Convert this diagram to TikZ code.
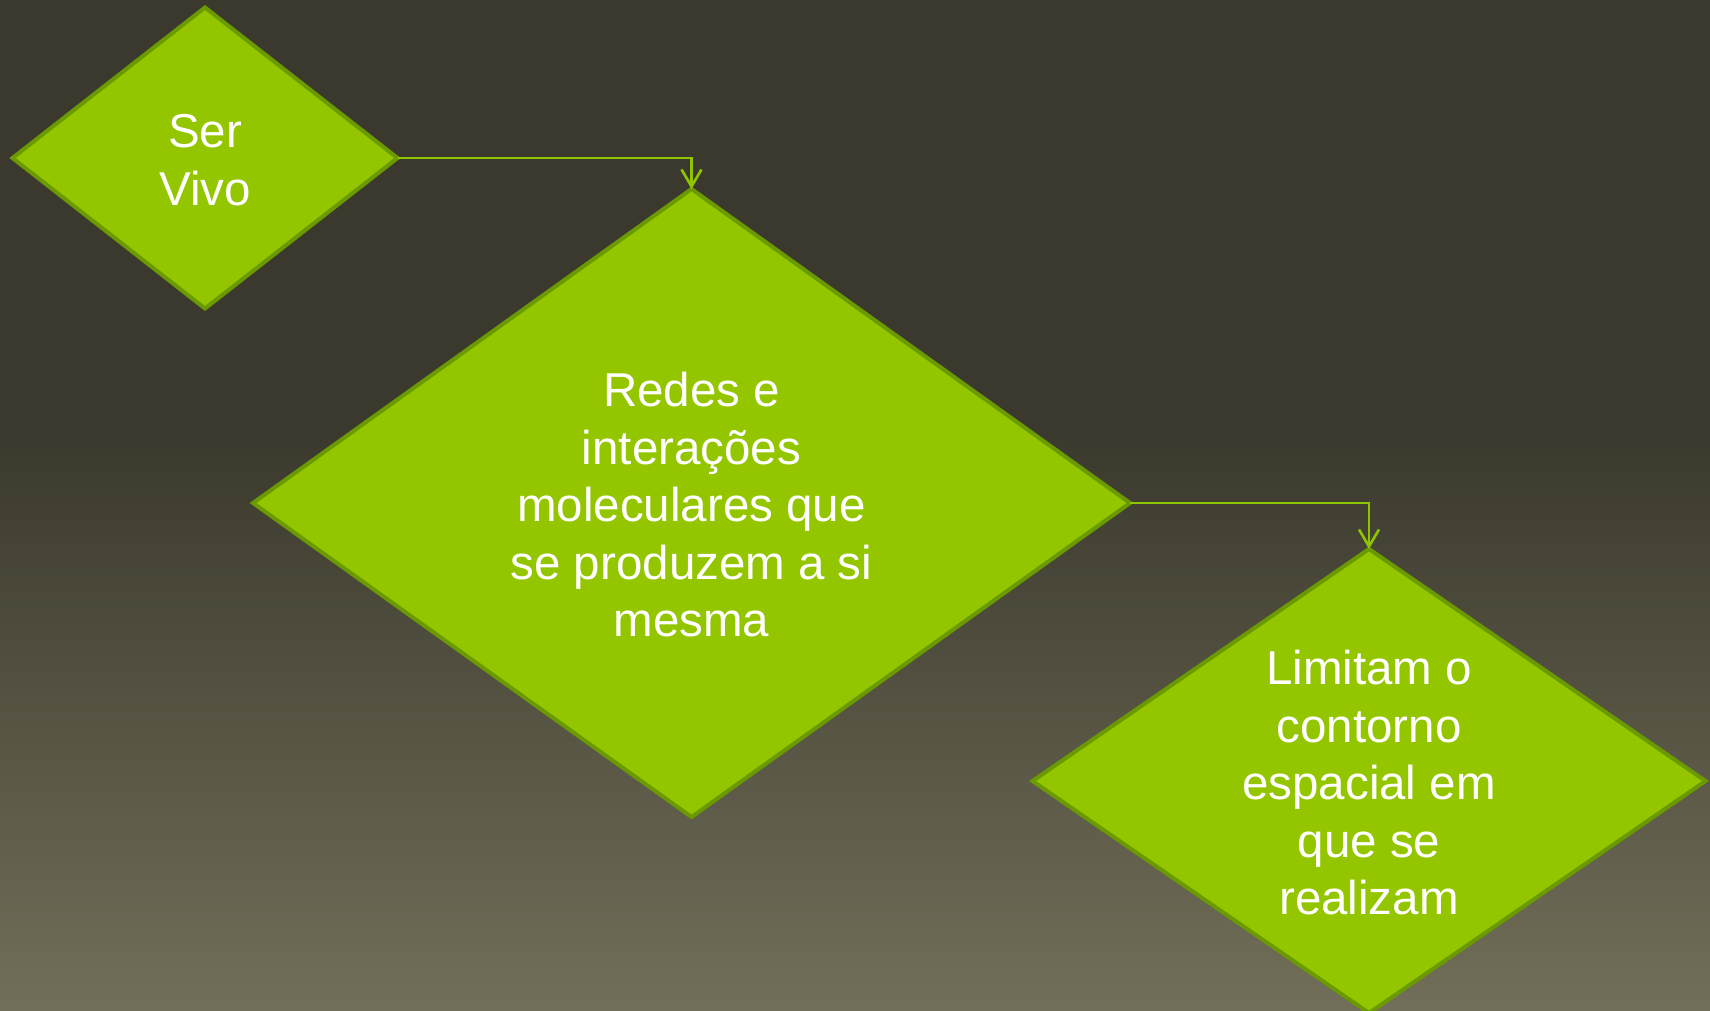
\documentclass[tikz,border=0pt]{standalone}
\usepackage{fontspec}
\setmainfont{Liberation Sans}
\usetikzlibrary{shapes.geometric,arrows.meta}
\definecolor{bgtop}{HTML}{3B392D}
\definecolor{bgbot}{HTML}{716E59}
\definecolor{dfill}{HTML}{94C600}
\definecolor{dline}{HTML}{6B9A00}
\definecolor{connc}{HTML}{8FC400}
\begin{document}
\begin{tikzpicture}[x=1pt,y=-1pt,
 dia/.style={diamond, draw=dline, fill=dfill, line width=4pt, inner sep=0pt, outer sep=0pt},
 txt/.style={align=center, text=white, inner sep=0pt, yshift=-2pt, font=\fontsize{47.5}{57.5}\selectfont},
 link/.style={draw=connc, line width=2.6pt, -{Straight Barb[length=17pt,width=20pt,line width=2.6pt]}}]
\useasboundingbox (0,0) rectangle (1710,1010);
\fill[bgtop] (0,0) rectangle (1710,1010);
\shade[top color=bgtop,bottom color=bgbot] (0,430) rectangle (1710,1010);
\node[dia, minimum width=385pt, minimum height=301pt] (d1) at (205,158) {};
\node[txt] (t1) at (d1.center) {Ser\\Vivo};
\node[dia, minimum width=877pt, minimum height=628pt] (d2) at (691.5,503) {};
\node[txt] (t2) at (d2.center) {Redes e\\interações\\moleculares que\\se produzem a si\\mesma};
\node[dia, minimum width=673pt, minimum height=464pt] (d3) at (1369,781) {};
\node[txt] (t3) at (d3.center) {Limitam o\\contorno\\espacial em\\que se\\realizam};
\draw[link] (d1.east) -| (d2.north);
\draw[link] (d2.east) -| (d3.north);
\end{tikzpicture}
\end{document}
